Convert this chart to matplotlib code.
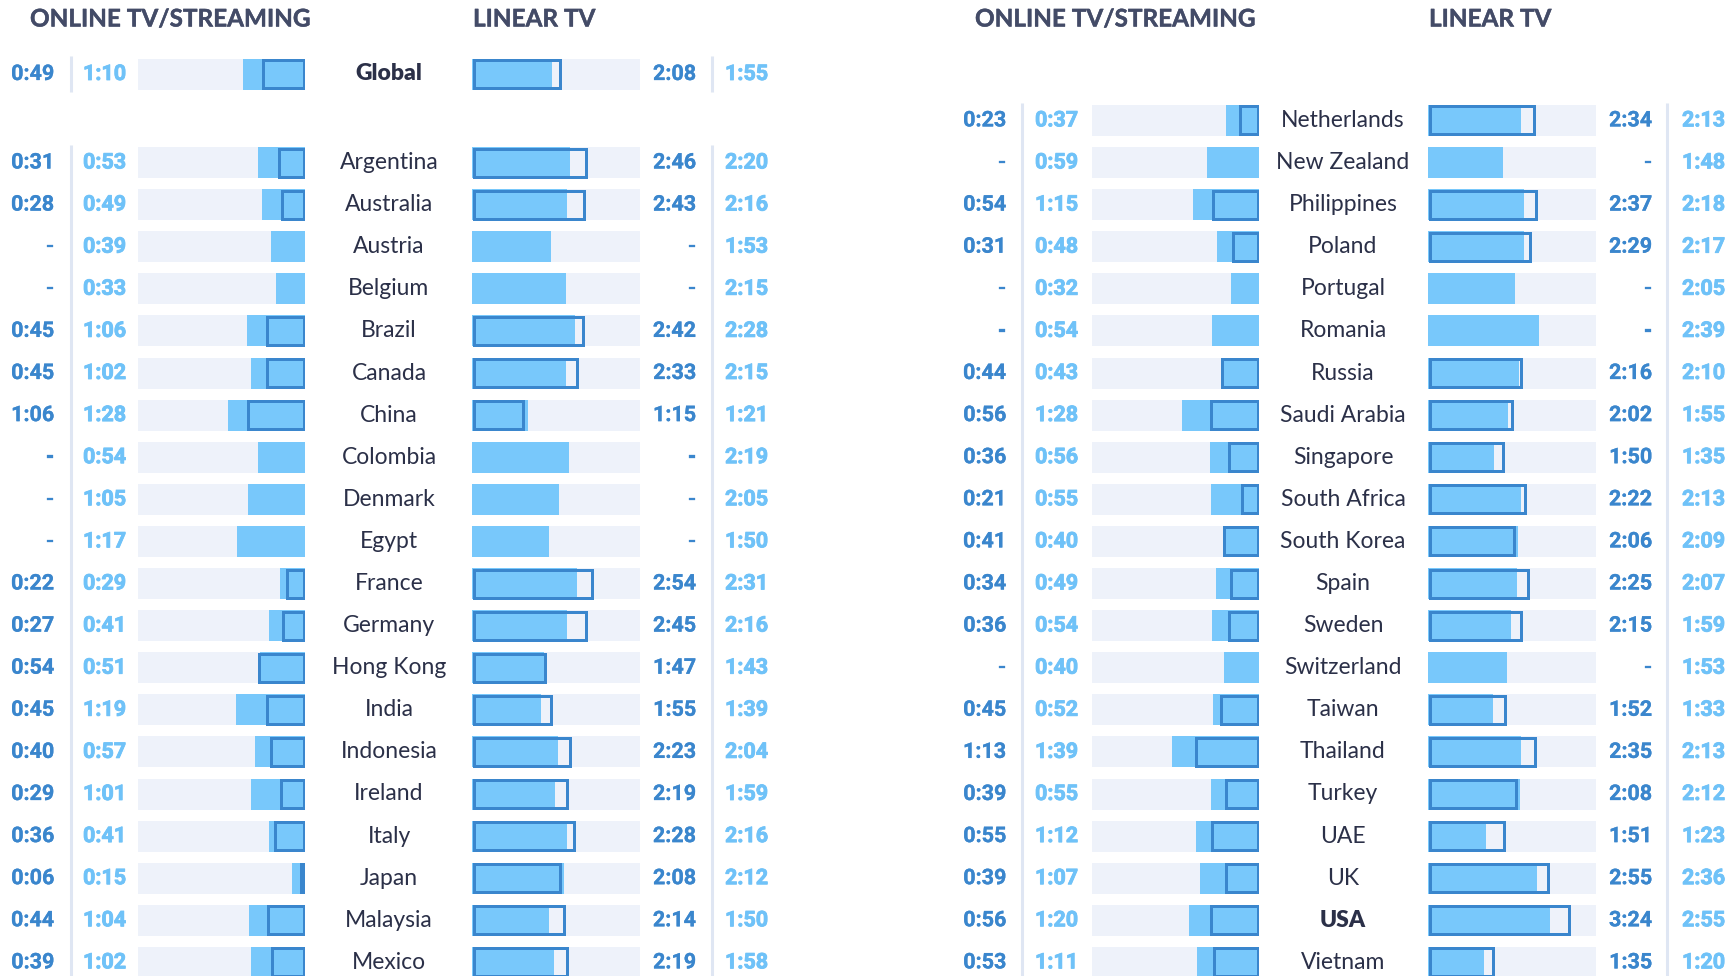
import matplotlib
matplotlib.use("Agg")
import matplotlib.pyplot as plt
import matplotlib.patheffects as pe

# ---- data (h:mm per day, None = no value) ----
left_names = ["Global", "Argentina", "Australia", "Austria", "Belgium", "Brazil",
              "Canada", "China", "Colombia", "Denmark", "Egypt", "France",
              "Germany", "Hong Kong", "India", "Indonesia", "Ireland", "Italy",
              "Japan", "Malaysia", "Mexico"]
left_online_box = ["0:49", "0:31", "0:28", None, None, "0:45", "0:45", "1:06", None,
                   None, None, "0:22", "0:27", "0:54", "0:45", "0:40", "0:29",
                   "0:36", "0:06", "0:44", "0:39"]
left_online_fill = ["1:10", "0:53", "0:49", "0:39", "0:33", "1:06", "1:02", "1:28",
                    "0:54", "1:05", "1:17", "0:29", "0:41", "0:51", "1:19", "0:57",
                    "1:01", "0:41", "0:15", "1:04", "1:02"]
left_linear_box = ["2:08", "2:46", "2:43", None, None, "2:42", "2:33", "1:15", None,
                   None, None, "2:54", "2:45", "1:47", "1:55", "2:23", "2:19",
                   "2:28", "2:08", "2:14", "2:19"]
left_linear_fill = ["1:55", "2:20", "2:16", "1:53", "2:15", "2:28", "2:15", "1:21",
                    "2:19", "2:05", "1:50", "2:31", "2:16", "1:43", "1:39", "2:04",
                    "1:59", "2:16", "2:12", "1:50", "1:58"]

right_names = ["Netherlands", "New Zealand", "Philippines", "Poland", "Portugal",
               "Romania", "Russia", "Saudi Arabia", "Singapore", "South Africa",
               "South Korea", "Spain", "Sweden", "Switzerland", "Taiwan",
               "Thailand", "Turkey", "UAE", "UK", "USA", "Vietnam"]
right_online_box = ["0:23", None, "0:54", "0:31", None, None, "0:44", "0:56", "0:36",
                    "0:21", "0:41", "0:34", "0:36", None, "0:45", "1:13", "0:39",
                    "0:55", "0:39", "0:56", "0:53"]
right_online_fill = ["0:37", "0:59", "1:15", "0:48", "0:32", "0:54", "0:43", "1:28",
                     "0:56", "0:55", "0:40", "0:49", "0:54", "0:40", "0:52", "1:39",
                     "0:55", "1:12", "1:07", "1:20", "1:11"]
right_linear_box = ["2:34", None, "2:37", "2:29", None, None, "2:16", "2:02", "1:50",
                    "2:22", "2:06", "2:25", "2:15", None, "1:52", "2:35", "2:08",
                    "1:51", "2:55", "3:24", "1:35"]
right_linear_fill = ["2:13", "1:48", "2:18", "2:17", "2:05", "2:39", "2:10", "1:55",
                     "1:35", "2:13", "2:09", "2:07", "1:59", "1:53", "1:33", "2:13",
                     "2:12", "1:23", "2:36", "2:55", "1:20"]

bold_names = {"Global", "USA"}

# ---- style ----
W, H = 1732, 976
BG = "#eef2fa"
LIGHT = "#78c8fb"
LIGHT_TXT = "#6fc2f8"
DARK = "#3a86cd"
SEP = "#dfe6f3"
NAME_C = "#2b3048"
HEAD_C = "#434b67"
FONT = ["Lato", "DejaVu Sans"]
NUM_FONT = ["Roboto", "DejaVu Sans"]

ROW_PX = 42.1         # row pitch in pixels
ROW0_PX = 162.5       # centre of first country row
BAR_PX = 31
LW_PX = 3
ONLINE_MAX = 190      # minutes across the online track
LINEAR_MAX = 241      # minutes across the linear track

Y_TOP = -ROW0_PX / ROW_PX
Y_BOT = (H - ROW0_PX) / ROW_PX
BAR_H = BAR_PX / ROW_PX


def to_min(s):
    if s is None:
        return None
    h, m = s.split(":")
    return int(h) * 60 + int(m)


fig = plt.figure(figsize=(W / 100, H / 100), dpi=100)
fig.patch.set_facecolor("white")

ax_t = fig.add_axes([0, 0, 1, 1], zorder=5)
ax_t.set_xlim(0, W)
ax_t.set_ylim(Y_BOT, Y_TOP)
ax_t.axis("off")
ax_t.patch.set_alpha(0)


def track(x0, w, xmax, invert, rows, box, fill):
    ax = fig.add_axes([x0 / W, 0, w / W, 1])
    ax.set_ylim(Y_BOT, Y_TOP)
    ax.set_xlim((xmax, 0) if invert else (0, xmax))
    ax.axis("off")
    ax.barh(rows, xmax, height=BAR_H, color=BG, linewidth=0)
    ax.barh(rows, [to_min(v) for v in fill], height=BAR_H, color=LIGHT, linewidth=0)
    ix = LW_PX / 2 * xmax / w
    iy = LW_PX / 2 / ROW_PX
    pts = [(r, to_min(v)) for r, v in zip(rows, box) if v is not None]
    ax.barh([p[0] for p in pts], [p[1] - 2 * ix for p in pts], left=ix,
            height=BAR_H - 2 * iy, fill=False, edgecolor=DARK,
            linewidth=LW_PX * 0.72)
    return ax


def num_text(x, y, s, color, ha, stroke):
    ax_t.text(x, y, s, color=color, ha=ha, va="center", fontsize=15.5,
              fontweight="bold", family=NUM_FONT,
              path_effects=[pe.withStroke(linewidth=stroke, foreground=color)])


def panel(names, on_box, on_fill, lin_box, lin_fill, rows, L):
    track(L["on"], 167, ONLINE_MAX, True, rows, on_box, on_fill)
    track(L["lin"], 168, LINEAR_MAX, False, rows, lin_box, lin_fill)

    for r, n, a, b, c, d in zip(rows, names, on_box, on_fill, lin_box, lin_fill):
        num_text(L["c1"], r, a if a else "-", DARK, "right", 0.2)
        num_text(L["c2"], r, b, LIGHT_TXT, "left", 0.6)
        num_text(L["c3"], r, c if c else "-", DARK, "right", 0.2)
        num_text(L["c4"], r, d, LIGHT_TXT, "left", 0.6)
        ax_t.text(L["name"], r, n, color=NAME_C, ha="center", va="center",
                  fontsize=16.5, family=FONT,
                  fontweight="heavy" if n in bold_names else "normal")

    hy = (19 - ROW0_PX) / ROW_PX
    head = dict(fontsize=17.5, fontweight="bold", family=FONT, color=HEAD_C,
                va="center", ha="left",
                path_effects=[pe.withStroke(linewidth=0.3, foreground=HEAD_C)])
    ax_t.text(L["head"], hy, "ONLINE TV/STREAMING", **head)
    ax_t.text(L["lin"] + 1, hy, "LINEAR TV", **head)


left_rows = [(74 - ROW0_PX) / ROW_PX] + list(range(len(left_names) - 1))
right_rows = [r - 1 for r in range(len(right_names))]

LEFT = dict(on=138, lin=472, c1=54, c2=83, name=389, c3=696, c4=725, s1=71, s2=712,
            head=30)
RIGHT = dict(on=1092, lin=1428, c1=1006, c2=1035, name=1343, c3=1652, c4=1682,
             s1=1022, s2=1667, head=975)

panel(left_names, left_online_box, left_online_fill, left_linear_box,
      left_linear_fill, left_rows, LEFT)
panel(right_names, right_online_box, right_online_fill, right_linear_box,
      right_linear_fill, right_rows, RIGHT)

# separator lines
pad = 2 / ROW_PX
g = left_rows[0]
for x in (LEFT["s1"], LEFT["s2"]):
    ax_t.vlines(x, g - BAR_H / 2 - pad, g + BAR_H / 2 + pad, color=SEP, lw=2.2)
    ax_t.vlines(x, left_rows[1] - BAR_H / 2 - pad, Y_BOT, color=SEP, lw=2.2)
for x in (RIGHT["s1"], RIGHT["s2"]):
    ax_t.vlines(x, right_rows[0] - BAR_H / 2 - pad, Y_BOT, color=SEP, lw=2.2)

fig.savefig("out.png", dpi=100, facecolor="white")
